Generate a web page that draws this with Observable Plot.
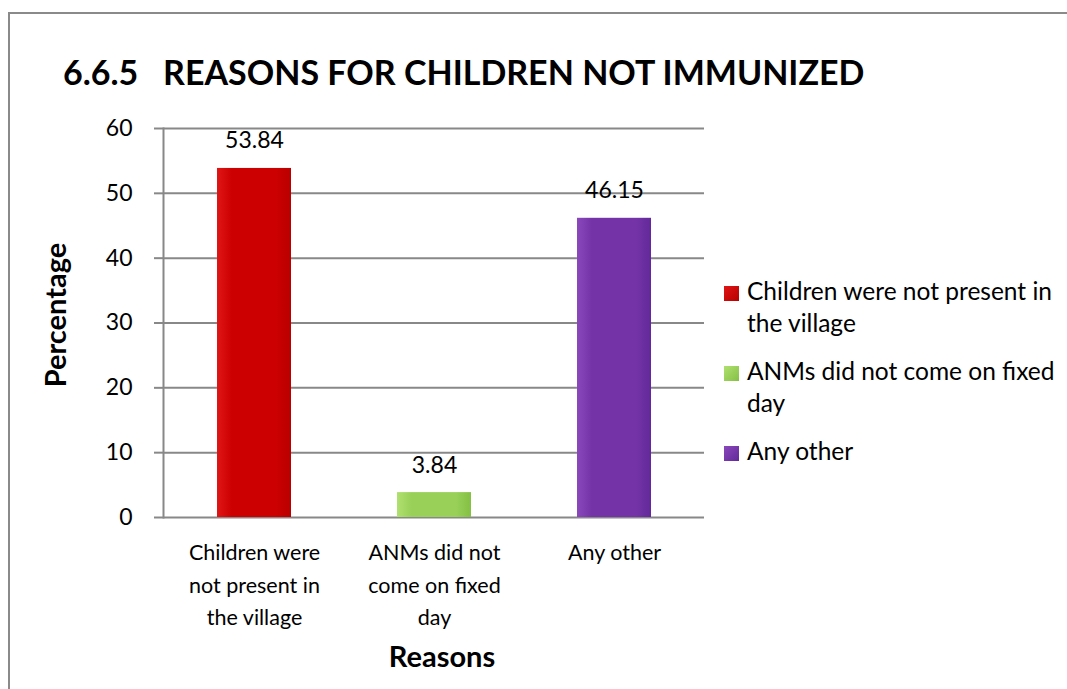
<!DOCTYPE html>
<html>
<head>
<meta charset="utf-8">
<script src="https://cdn.jsdelivr.net/npm/d3@7"></script>
<script src="https://cdn.jsdelivr.net/npm/@observablehq/plot@0.6"></script>
<style>
  html, body { margin: 0; padding: 0; background: #fff; }
  #wrap { position: relative; width: 1067px; height: 689px; overflow: hidden; font-family: Lato, sans-serif; color: #000; }
  #border { position: absolute; left: 8px; top: 12px; width: 1200px; height: 800px; border: 2.5px solid #8a8a8a; box-sizing: border-box; }
  #chart { position: absolute; left: 0; top: 0; }
  .abs { position: absolute; white-space: nowrap; }
  #title { left: 63px; top: 52px; font-size: 34px; line-height: 40px; font-weight: 700; }
  #ylab { left: 55px; top: 315px; font-size: 29px; line-height: 34px; font-weight: 700; transform: translate(-50%, -50%) rotate(-90deg); }
  #xlab { left: 442px; top: 639px; font-size: 29px; line-height: 34px; font-weight: 700; transform: translateX(-50%); }
  .leg { font-size: 24.5px; line-height: 32px; left: 747px; }
  .sw { position: absolute; width: 15px; height: 15px; left: 724px; }
</style>
</head>
<body>
<div id="wrap">
  <div id="border"></div>
  <div id="chart"></div>
  <div id="title" class="abs">6.6.5&nbsp;&nbsp;&nbsp;REASONS FOR CHILDREN NOT IMMUNIZED</div>
  <div id="ylab" class="abs">Percentage</div>
  <div id="xlab" class="abs">Reasons</div>
  <div id="legend"></div>
</div>
<script>
// ---- data ----
const categories = ["Children were not present in the village", "ANMs did not come on fixed day", "Any other"];
const values = [53.84, 3.84, 46.15];
const valueLabels = ["53.84", "3.84", "46.15"];
const tickLabels = ["Children were\nnot present in\nthe village", "ANMs did not\ncome on fixed\nday", "Any other"];
const legendLines = [["Children were not present in", "the village"], ["ANMs did not come on fixed", "day"], ["Any other"]];
const yTicks = [0, 10, 20, 30, 40, 50, 60];
const gradStops = [
  ["#e01515", "#cc0000", "#b80000"],
  ["#b0e070", "#98d058", "#84c044"],
  ["#8a48bc", "#7434a8", "#62289a"]
];

const data = categories.map((c, i) => ({cat: c, value: values[i], label: valueLabels[i], i}));

const defsMark = () => {
  const defs = d3.create("svg:defs");
  gradStops.forEach((s, k) => {
    const g = defs.append("linearGradient").attr("id", "grad" + k).attr("x1", "0").attr("x2", "1").attr("y1", "0").attr("y2", "0");
    g.append("stop").attr("offset", "0").attr("stop-color", s[0]);
    g.append("stop").attr("offset", "0.2").attr("stop-color", s[1]);
    g.append("stop").attr("offset", "0.8").attr("stop-color", s[1]);
    g.append("stop").attr("offset", "1").attr("stop-color", s[2]);
  });
  return defs.node();
};

const bars = categories.map((c, k) =>
  Plot.barY(data.filter(d => d.i === k), {x: "cat", y: "value", fill: `url(#grad${k})`})
);

const chart = Plot.plot({
  width: 1067,
  height: 689,
  marginLeft: 163,
  marginRight: 363,
  marginTop: 128,
  marginBottom: 172,
  style: {fontFamily: "Lato, sans-serif", fontSize: "23px", color: "#000", background: "transparent"},
  x: {domain: categories, paddingInner: 0.59, paddingOuter: 0.295, axis: null},
  y: {domain: [0, 60], axis: null},
  marks: [
    defsMark,
    Plot.gridY(yTicks, {stroke: "#888", strokeOpacity: 1, strokeWidth: 2}),
    ...bars,
    Plot.axisY(yTicks, {tickSize: 9, tickPadding: 22, stroke: "#888", strokeWidth: 2, fill: "#000", label: null, fontSize: 23}),
    Plot.axisX({tickSize: 0, tickPadding: 20, tickFormat: d => tickLabels[categories.indexOf(d)], lineHeight: 1.5, label: null, fontSize: 21.5, fill: "#000"}),
    Plot.frame({anchor: "left", stroke: "#888", strokeWidth: 2}),
    Plot.text(data, {x: "cat", y: "value", text: "label", lineAnchor: "bottom", dy: -20, fontSize: 23, fill: "#000"})
  ]
});
document.getElementById("chart").appendChild(chart);

// legend
const legTops = [275, 355, 435];
const swTops = [286, 366, 446];
const legend = document.getElementById("legend");
legendLines.forEach((lines, k) => {
  const sw = document.createElement("div");
  sw.className = "sw";
  sw.style.top = swTops[k] + "px";
  sw.style.background = `linear-gradient(135deg, ${gradStops[k][0]}, ${gradStops[k][2]})`;
  legend.appendChild(sw);
  const t = document.createElement("div");
  t.className = "abs leg";
  t.style.top = legTops[k] + "px";
  t.innerHTML = lines.join("<br>");
  legend.appendChild(t);
});
</script>
</body>
</html>
